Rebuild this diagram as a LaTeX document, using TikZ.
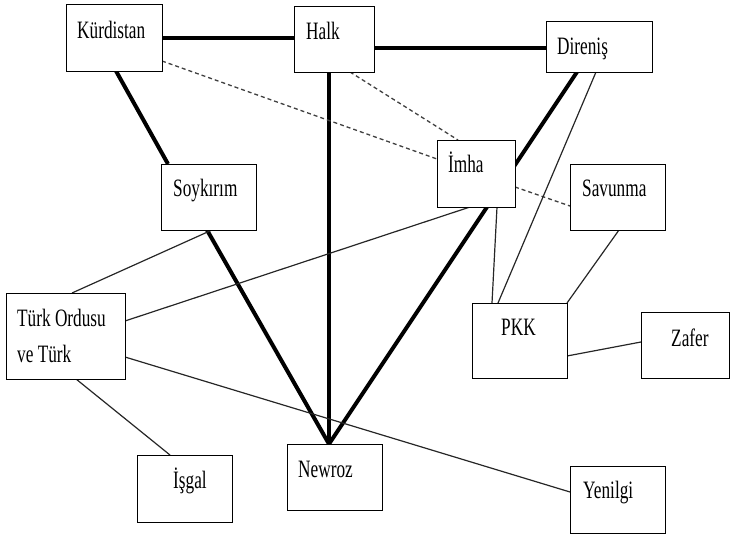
\documentclass[tikz,border=0pt]{standalone}
\usepackage{fontspec}
\setmainfont[FakeStretch=0.69]{Liberation Serif}
\usetikzlibrary{calc,backgrounds}
\tikzset{
  box/.style={draw=black, line width=1.2pt, fill=white, rectangle, inner sep=0pt, anchor=north west},
  lbl/.style={inner sep=0pt, anchor=base west, font=\fontsize{25}{30}\selectfont},
  thickline/.style={line width=4pt, black},
  thinline/.style={line width=1.2pt, black!85},
  dashline/.style={line width=1.3pt, black!75, dash pattern=on 4pt off 3pt},
}
\begin{document}
\begin{tikzpicture}[x=1pt,y=-1pt]
\useasboundingbox (0,0) rectangle (730,534);
% boxes
\node[box, minimum width=96pt,  minimum height=67pt] (k)  at (66,4) {};
\node[box, minimum width=80pt,  minimum height=66pt] (h)  at (294,6) {};
\node[box, minimum width=106pt, minimum height=51pt] (d)  at (546,21) {};
\node[box, minimum width=78pt,  minimum height=67pt] (im) at (437,140) {};
\node[box, minimum width=95pt,  minimum height=66pt] (s)  at (161,164) {};
\node[box, minimum width=95pt,  minimum height=66pt] (sv) at (570,164) {};
\node[box, minimum width=119pt, minimum height=86pt] (t)  at (6,293) {};
\node[box, minimum width=95pt,  minimum height=75pt] (p)  at (472,303) {};
\node[box, minimum width=88pt,  minimum height=66pt] (z)  at (641,312) {};
\node[box, minimum width=95pt,  minimum height=67pt] (i)  at (137,455) {};
\node[box, minimum width=95pt,  minimum height=66pt] (n)  at (287,444) {};
\node[box, minimum width=95pt,  minimum height=67pt] (y)  at (570,466) {};
% labels
\node[lbl] (lk)  at (77,39)   {Kürdistan};
\node[lbl] (lh)  at (306,40)  {Halk};
\node[lbl] (ld)  at (557,55)  {Direniş};
\node[lbl] (lim) at (448,173) {İmha};
\node[lbl] (ls)  at (173,197) {Soykırım};
\node[lbl] (lsv) at (582,197) {Savunma};
\node[lbl] (lt1) at (17,326)  {Türk Ordusu};
\node[lbl] (lt2) at (17,362)  {ve Türk};
\node[lbl] (li)  at (173,488) {İşgal};
\node[lbl] (ln)  at (298,477) {Newroz};
\node[lbl] (lp)  at (501,335) {PKK};
\node[lbl] (lz)  at (671,346) {Zafer};
\node[lbl] (ly)  at (583,498) {Yenilgi};
% connectors
\begin{scope}[on background layer]
  % thick
  \draw[thickline] ($(k.north west)+(96,34)$) -- ($(h.north west)+(0,32)$);
  \draw[thickline] ($(h.north west)+(80,42)$) -- ($(d.north west)+(0,27)$);
  \draw[thickline] ($(k.north west)+(50,67)$) -- ($(s.north west)+(7,0)$);
  \draw[thickline] ($(h.north west)+(35,66)$) -- ($(n.north west)+(42,0)$);
  \draw[thickline] ($(s.north west)+(46,66)$) -- ($(n.north west)+(42,0)$);
  \draw[thickline] ($(d.north west)+(31,51)$) -- ($(n.north west)+(42,0)$);
  % dashed
  \draw[dashline] ($(k.north west)+(96,57)$) -- ($(im.north west)+(0,19)$);
  \draw[dashline] ($(h.north west)+(56,66)$) -- ($(im.north west)+(21,0)$);
  \draw[dashline] ($(im.north west)+(78,47)$) -- ($(sv.north west)+(0,42)$);
  % thin
  \draw[thinline] ($(t.north west)+(66,0)$) -- ($(s.north west)+(51,66)$);
  \draw[thinline] ($(t.north west)+(119,28)$) -- ($(im.north west)+(33,67)$);
  \draw[thinline] ($(t.north west)+(119,64)$) -- ($(y.north west)+(0,26)$);
  \draw[thinline] ($(t.north west)+(70,86)$) -- ($(i.north west)+(33,0)$);
  \draw[thinline] ($(im.north west)+(60,67)$) -- ($(p.north west)+(20,0)$);
  \draw[thinline] ($(d.north west)+(50,51)$) -- ($(p.north west)+(26,0)$);
  \draw[thinline] ($(sv.north west)+(49,66)$) -- ($(p.north west)+(95,0)$);
  \draw[thinline] ($(p.north west)+(95,53)$) -- ($(z.north west)+(0,30)$);
\end{scope}
\end{tikzpicture}
\end{document}
